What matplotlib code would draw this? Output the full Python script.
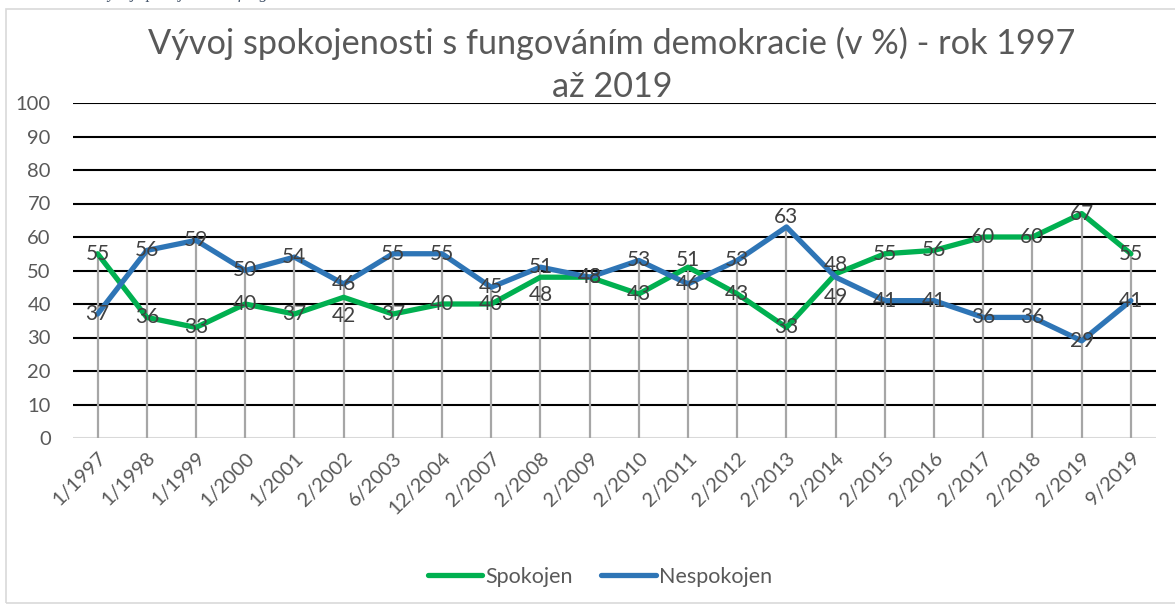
import matplotlib
matplotlib.use("Agg")
import matplotlib.pyplot as plt
from matplotlib.patches import Rectangle
import numpy as np

categories = ["1/1997", "1/1998", "1/1999", "1/2000", "1/2001", "2/2002", "6/2003",
              "12/2004", "2/2007", "2/2008", "2/2009", "2/2010", "2/2011", "2/2012",
              "2/2013", "2/2014", "2/2015", "2/2016", "2/2017", "2/2018", "2/2019", "9/2019"]
spokojen = [55, 36, 33, 40, 37, 42, 37, 40, 40, 48, 48, 43, 51, 43, 33, 49, 55, 56, 60, 60, 67, 55]
nespokojen = [37, 56, 59, 50, 54, 46, 55, 55, 45, 51, 48, 53, 46, 53, 63, 48, 41, 41, 36, 36, 29, 41]
series_names = ["Spokojen", "Nespokojen"]
title = "Vývoj spokojenosti s fungováním demokracie (v %) - rok 1997\naž 2019"
caption = "Vývoj spokojenosti s fungováním demokracie"
yticks = [0, 10, 20, 30, 40, 50, 60, 70, 80, 90, 100]

W, H = 1175, 608
fig = plt.figure(figsize=(W / 100, H / 100), dpi=100)
fig.patch.set_facecolor("white")

# outer chart frame
fig.add_artist(Rectangle((6 / W, 1 - 603 / H), (W + 10) / W, (603 - 9) / H,
                         transform=fig.transFigure, fill=False,
                         edgecolor="#d9d9d9", linewidth=1.2))

# caption above the chart, cropped by the top edge in the reference
fig.text(98 / W, 1 + 1.5 / H, caption, fontsize=12, style="italic",
         family="Liberation Serif", color="#44546A", va="baseline", ha="left")

ax = fig.add_axes([73 / W, 1 - 438 / H, (1155.5 - 73) / W, (438 - 103) / H])
x = np.arange(len(categories))
ax.set_xlim(-0.5, len(categories) - 0.5)
ax.set_ylim(0, 100)

for yv in yticks[1:]:
    ax.axhline(yv, color="black", linewidth=1.5, zorder=1)
ax.axhline(0, color="#d9d9d9", linewidth=1.5, zorder=1)

tops = np.maximum(spokojen, nespokojen)
ax.vlines(x, 0, tops, color="#a6a6a6", linewidth=1.6, zorder=2)

green = "#00B050"
blue = "#2E75B6"
ax.plot(x, spokojen, color=green, linewidth=3.8, solid_capstyle="round",
        solid_joinstyle="round", zorder=3, label=series_names[0])
ax.plot(x, nespokojen, color=blue, linewidth=3.8, solid_capstyle="round",
        solid_joinstyle="round", zorder=3, label=series_names[1])

label_font = dict(fontsize=15, family="Lato", color="#404040")
offs_g = {5: -19, 9: -18, 12: 7, 15: -23}
offs_b = {14: 10, 15: 12}
for i, v in enumerate(spokojen):
    ax.annotate(str(v), (x[i], v), xytext=(0, offs_g.get(i, 0) * 0.72),
                textcoords="offset points", ha="center", va="center", zorder=4, **label_font)
for i, v in enumerate(nespokojen):
    ax.annotate(str(v), (x[i], v), xytext=(0, offs_b.get(i, 0) * 0.72),
                textcoords="offset points", ha="center", va="center", zorder=4, **label_font)

ax.set_yticks(yticks)
ax.set_yticklabels([str(t) for t in yticks], fontsize=14.5, family="Lato", color="#595959")
ax.set_xticks(x)
ax.set_xticklabels(categories, rotation=45, ha="right", rotation_mode="anchor",
                   fontsize=14.5, family="Lato", color="#595959")
ax.tick_params(axis="both", length=0)
ax.tick_params(axis="y", pad=16)
ax.tick_params(axis="x", pad=8)
for s in ax.spines.values():
    s.set_visible(False)

fig.text(612 / W, 1 - 65 / H, title, ha="center", va="center", fontsize=24.7,
         family="Lato", color="#595959", linespacing=1.4)

fig.legend(loc="center", bbox_to_anchor=(600 / W, 1 - 577 / H), ncol=2, frameon=False,
           prop=dict(family="Lato", size=15.5), labelcolor="#595959",
           handlelength=2.55, handletextpad=0.15, columnspacing=1.3)

fig.savefig("out.png", dpi=100)
